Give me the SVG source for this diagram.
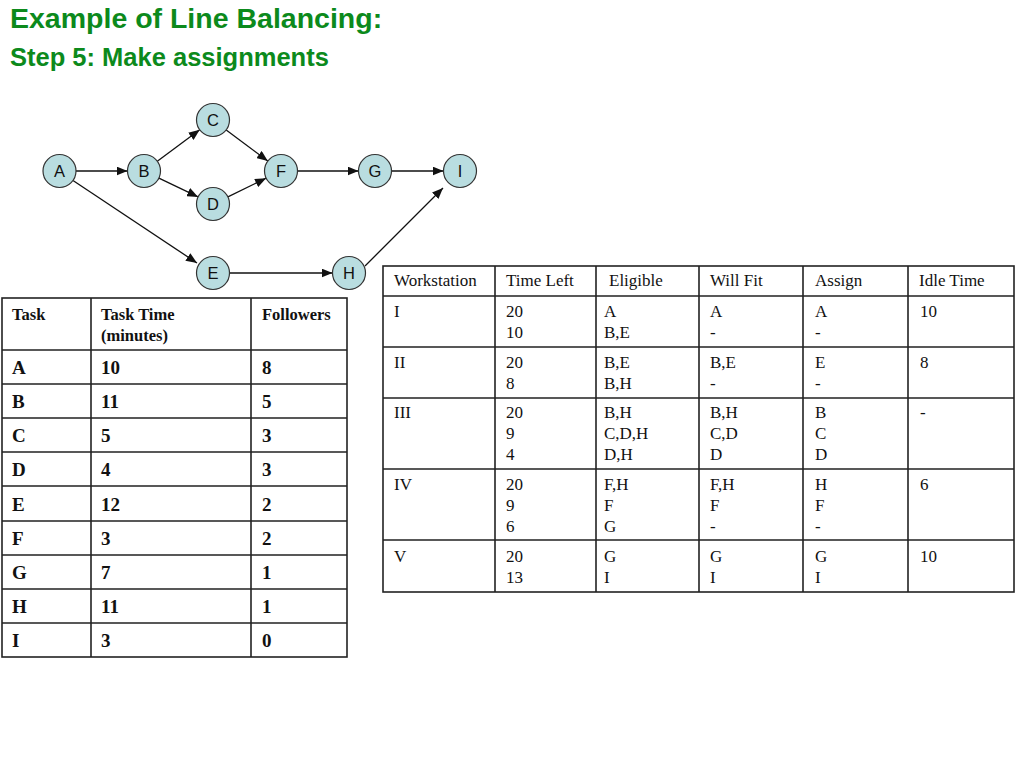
<svg xmlns="http://www.w3.org/2000/svg" width="1024" height="768" viewBox="0 0 1024 768">
<style>
.title{font-family:"Liberation Sans",Arial,sans-serif;font-weight:bold;fill:#0c8a1c}
.node circle{fill:#b9dde0;stroke:#333;stroke-width:1.2}
.node text{font-family:"Liberation Sans",Arial,sans-serif;font-size:16.5px;fill:#111;text-anchor:middle}
.edge{stroke:#111;stroke-width:1.3;fill:none;marker-end:url(#arr)}
.grid{stroke:#222;stroke-width:1.6;fill:none}
.th{font-family:"Liberation Serif","Times New Roman",serif;font-size:16.5px;font-weight:bold;fill:#111}
.tb{font-family:"Liberation Serif","Times New Roman",serif;font-size:19px;font-weight:bold;fill:#111}
.tw{font-family:"Liberation Serif","Times New Roman",serif;font-size:17px;fill:#111}
</style>
<defs>
<marker id="arr" markerUnits="userSpaceOnUse" markerWidth="11" markerHeight="9" refX="11" refY="4.5" orient="auto">
<path d="M0,0 L11,4.5 L0,9 z" fill="#111"/>
</marker>
</defs>
<rect width="1024" height="768" fill="#fff"/>
<text class="title" x="10" y="28" font-size="28.5">Example of Line Balancing:</text>
<text class="title" x="10" y="66" font-size="25.5">Step 5: Make assignments</text>

<g id="connectors">
<line class="edge" x1="76" y1="171" x2="127.5" y2="171"/>
<line class="edge" x1="157.3" y1="161.2" x2="199.7" y2="129.8"/>
<line class="edge" x1="158.9" y1="178.1" x2="198.1" y2="196.9"/>
<line class="edge" x1="226.2" y1="129.9" x2="267.8" y2="161.1"/>
<line class="edge" x1="227.9" y1="196.8" x2="266.1" y2="178.2"/>
<line class="edge" x1="297.5" y1="171" x2="358.5" y2="171"/>
<line class="edge" x1="391.5" y1="171" x2="443.5" y2="171"/>
<line class="edge" x1="73" y1="180.5" x2="197" y2="263"/>
<line class="edge" x1="229.5" y1="273" x2="332.5" y2="273"/>
<line class="edge" x1="365" y1="266" x2="443" y2="188"/>
</g>

<g id="node-A" class="node"><circle cx="59.5" cy="171" r="16.5"/><text x="59.5" y="177">A</text></g>
<g id="node-B" class="node"><circle cx="144" cy="171" r="16.5"/><text x="144" y="177">B</text></g>
<g id="node-C" class="node"><circle cx="213" cy="120" r="16.5"/><text x="213" y="126">C</text></g>
<g id="node-D" class="node"><circle cx="213" cy="204" r="16.5"/><text x="213" y="210">D</text></g>
<g id="node-E" class="node"><circle cx="213" cy="273" r="16.5"/><text x="213" y="279">E</text></g>
<g id="node-F" class="node"><circle cx="281" cy="171" r="16.5"/><text x="281" y="177">F</text></g>
<g id="node-G" class="node"><circle cx="375" cy="171" r="16.5"/><text x="375" y="177">G</text></g>
<g id="node-H" class="node"><circle cx="349" cy="273" r="16.5"/><text x="349" y="279">H</text></g>
<g id="node-I" class="node"><circle cx="460" cy="171" r="16.5"/><text x="460" y="177">I</text></g>

<g id="task-table">
<rect class="grid" x="2" y="298" width="345" height="359"/>
<path class="grid" d="M91,298V657 M251,298V657 M2,350H347 M2,384H347 M2,418H347 M2,452H347 M2,486H347 M2,521H347 M2,555H347 M2,589H347 M2,623H347"/>
<text class="th" x="12" y="320">Task</text>
<text class="th" x="101" y="320">Task Time</text>
<text class="th" x="101" y="341">(minutes)</text>
<text class="th" x="262" y="320">Followers</text>
<g class="tb">
<text x="12" y="374">A</text><text x="101" y="374">10</text><text x="262" y="374">8</text>
<text x="12" y="408">B</text><text x="101" y="408">11</text><text x="262" y="408">5</text>
<text x="12" y="442">C</text><text x="101" y="442">5</text><text x="262" y="442">3</text>
<text x="12" y="476">D</text><text x="101" y="476">4</text><text x="262" y="476">3</text>
<text x="12" y="510.5">E</text><text x="101" y="510.5">12</text><text x="262" y="510.5">2</text>
<text x="12" y="545">F</text><text x="101" y="545">3</text><text x="262" y="545">2</text>
<text x="12" y="579">G</text><text x="101" y="579">7</text><text x="262" y="579">1</text>
<text x="12" y="613">H</text><text x="101" y="613">11</text><text x="262" y="613">1</text>
<text x="12" y="647">I</text><text x="101" y="647">3</text><text x="262" y="647">0</text>
</g>
</g>

<g id="workstation-table">
<rect class="grid" x="383" y="266" width="631" height="326"/>
<path class="grid" d="M495,266V592 M596,266V592 M699,266V592 M803,266V592 M908,266V592 M383,296H1014 M383,347H1014 M383,398H1014 M383,469H1014 M383,540H1014"/>
<g class="tw">
<text x="394" y="286">Workstation</text>
<text x="506" y="286">Time Left</text>
<text x="609" y="286">Eligible</text>
<text x="710" y="286">Will Fit</text>
<text x="815" y="286">Assign</text>
<text x="919" y="286">Idle Time</text>

<text x="394" y="317">I</text>
<text x="506" y="317">20</text><text x="506" y="338">10</text>
<text x="604" y="317">A</text><text x="604" y="338">B,E</text>
<text x="710" y="317">A</text><text x="710" y="338">-</text>
<text x="815" y="317">A</text><text x="815" y="338">-</text>
<text x="920" y="317">10</text>

<text x="394" y="368">II</text>
<text x="506" y="368">20</text><text x="506" y="389">8</text>
<text x="604" y="368">B,E</text><text x="604" y="389">B,H</text>
<text x="710" y="368">B,E</text><text x="710" y="389">-</text>
<text x="815" y="368">E</text><text x="815" y="389">-</text>
<text x="920" y="368">8</text>

<text x="394" y="418">III</text>
<text x="506" y="418">20</text><text x="506" y="439">9</text><text x="506" y="460">4</text>
<text x="604" y="418">B,H</text><text x="604" y="439">C,D,H</text><text x="604" y="460">D,H</text>
<text x="710" y="418">B,H</text><text x="710" y="439">C,D</text><text x="710" y="460">D</text>
<text x="815" y="418">B</text><text x="815" y="439">C</text><text x="815" y="460">D</text>
<text x="920" y="418">-</text>

<text x="394" y="490">IV</text>
<text x="506" y="490">20</text><text x="506" y="511">9</text><text x="506" y="532">6</text>
<text x="604" y="490">F,H</text><text x="604" y="511">F</text><text x="604" y="532">G</text>
<text x="710" y="490">F,H</text><text x="710" y="511">F</text><text x="710" y="532">-</text>
<text x="815" y="490">H</text><text x="815" y="511">F</text><text x="815" y="532">-</text>
<text x="920" y="490">6</text>

<text x="394" y="562">V</text>
<text x="506" y="562">20</text><text x="506" y="583">13</text>
<text x="604" y="562">G</text><text x="604" y="583">I</text>
<text x="710" y="562">G</text><text x="710" y="583">I</text>
<text x="815" y="562">G</text><text x="815" y="583">I</text>
<text x="920" y="562">10</text>
</g>
</g>
</svg>
